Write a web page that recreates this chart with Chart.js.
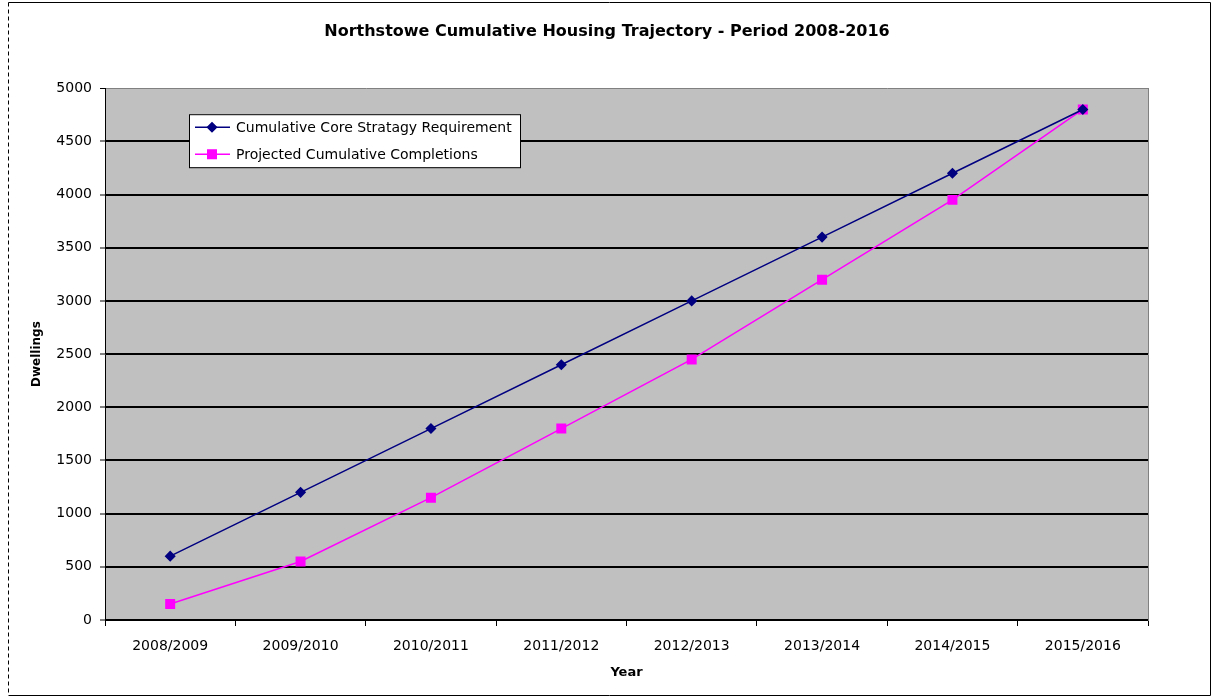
<!DOCTYPE html>
<html>
<head>
<meta charset="utf-8">
<script src="https://cdn.jsdelivr.net/npm/chart.js@4"></script>
<style>
  html, body { margin: 0; padding: 0; background: #fff; }
  #wrap { width: 1214px; height: 697px; }
</style>
</head>
<body>
<div id="wrap"><canvas id="chart" width="1214" height="697"></canvas></div>
<script>
// Data
const years = ['2008/2009', '2009/2010', '2010/2011', '2011/2012', '2012/2013', '2013/2014', '2014/2015', '2015/2016'];
const requirement = [600, 1200, 1800, 2400, 3000, 3600, 4200, 4800];
const completions = [150, 550, 1150, 1800, 2450, 3200, 3950, 4800];
const yTicks = [0, 500, 1000, 1500, 2000, 2500, 3000, 3500, 4000, 4500, 5000];

const FONT = "'DejaVu Sans', sans-serif";

// grey plot area + outer frame
const frame = {
  id: 'frame',
  beforeDraw(chart) {
    const { ctx, chartArea: a } = chart;
    ctx.save();
    ctx.fillStyle = '#c0c0c0';
    ctx.fillRect(a.left, a.top, a.right - a.left, a.bottom - a.top);
    ctx.strokeStyle = '#000';
    ctx.lineWidth = 1;
    ctx.beginPath();
    ctx.moveTo(8.5, 2.5); ctx.lineTo(1210.5, 2.5); ctx.lineTo(1210.5, 695.5); ctx.lineTo(8.5, 695.5);
    ctx.stroke();
    ctx.setLineDash([4, 3]);
    ctx.beginPath();
    ctx.moveTo(8.5, 2.5); ctx.lineTo(8.5, 695.5);
    ctx.stroke();
    ctx.restore();
  }
};

// legend box inside the plot, like the Excel original
const boxLegend = {
  id: 'boxLegend',
  afterDraw(chart) {
    const { ctx, chartArea: a } = chart;
    const x = a.left + 84, y = a.top + 26, w = 331, h = 53;
    ctx.save();
    ctx.fillStyle = '#fff';
    ctx.fillRect(x, y, w, h);
    ctx.strokeStyle = '#000';
    ctx.lineWidth = 1;
    ctx.strokeRect(x + 0.5, y + 0.5, w, h);
    chart.data.datasets.forEach((ds, i) => {
      const cy = y + 13 + i * 27;
      ctx.strokeStyle = ds.borderColor;
      ctx.lineWidth = 1.5;
      ctx.beginPath();
      ctx.moveTo(x + 6, cy); ctx.lineTo(x + 41, cy);
      ctx.stroke();
      ctx.fillStyle = ds.pointBackgroundColor;
      Chart.helpers.drawPoint(ctx, { pointStyle: ds.pointStyle, radius: ds.pointRadius, borderWidth: 1 }, x + 23, cy);
      ctx.fill();
      ctx.fillStyle = '#000';
      ctx.font = '14px ' + FONT;
      ctx.textBaseline = 'middle';
      ctx.fillText(ds.label, x + 47, cy + 1);
    });
    ctx.restore();
  }
};

new Chart(document.getElementById('chart'), {
  type: 'line',
  data: {
    labels: years,
    datasets: [{
      label: 'Cumulative Core Stratagy Requirement',
      data: requirement,
      borderColor: '#000080',
      backgroundColor: '#000080',
      pointBackgroundColor: '#000080',
      pointBorderColor: '#000080',
      pointStyle: 'rectRot',
      pointRadius: 4.5,
      borderWidth: 1.5,
      tension: 0
    }, {
      label: 'Projected Cumulative Completions',
      data: completions,
      borderColor: '#ff00ff',
      backgroundColor: '#ff00ff',
      pointBackgroundColor: '#ff00ff',
      pointBorderColor: '#ff00ff',
      pointStyle: 'rect',
      pointRadius: 6,
      borderWidth: 1.5,
      tension: 0
    }]
  },
  options: {
    responsive: false,
    animation: false,
    layout: { padding: 0 },
    scales: {
      x: {
        offset: true,
        afterFit: s => { s.height = 77; },
        grid: { offset: true, drawOnChartArea: false, tickLength: 6, color: '#000' },
        border: { color: '#000', width: 1 },
        ticks: { color: '#000', font: { family: FONT, size: 14 }, padding: 12, maxRotation: 0 },
        title: { display: true, text: 'Year', color: '#000', font: { family: FONT, size: 13, weight: 'bold' }, padding: { top: 0, bottom: 17 } }
      },
      y: {
        min: 0,
        max: 5000,
        afterFit: s => { s.width = 105; },
        afterBuildTicks: s => { s.ticks = yTicks.map(v => ({ value: v })); },
        grid: {
          color: c => c.tick && c.tick.value === 5000 ? '#808080' : '#000',
          lineWidth: c => c.tick && c.tick.value === 5000 ? 1 : 2,
          tickColor: '#000',
          tickWidth: 1,
          tickLength: 5
        },
        border: { color: '#000', width: 1 },
        ticks: { color: '#000', font: { family: FONT, size: 14 }, padding: 8, callback: v => String(v) },
        title: { display: true, text: 'Dwellings', color: '#000', font: { family: FONT, size: 12, weight: 'bold' }, padding: { top: 30, bottom: 0 } }
      },
      y2: {
        position: 'right',
        afterFit: s => { s.width = 66; },
        grid: { display: false },
        border: { color: '#808080', width: 1 },
        ticks: { display: false }
      }
    },
    plugins: {
      legend: { display: false },
      tooltip: { enabled: false },
      title: {
        display: true,
        text: 'Northstowe Cumulative Housing Trajectory - Period 2008-2016',
        color: '#000',
        font: { family: FONT, size: 16, weight: 'bold' },
        padding: { top: 22, bottom: 47 }
      }
    }
  },
  plugins: [frame, boxLegend]
});
</script>
</body>
</html>
